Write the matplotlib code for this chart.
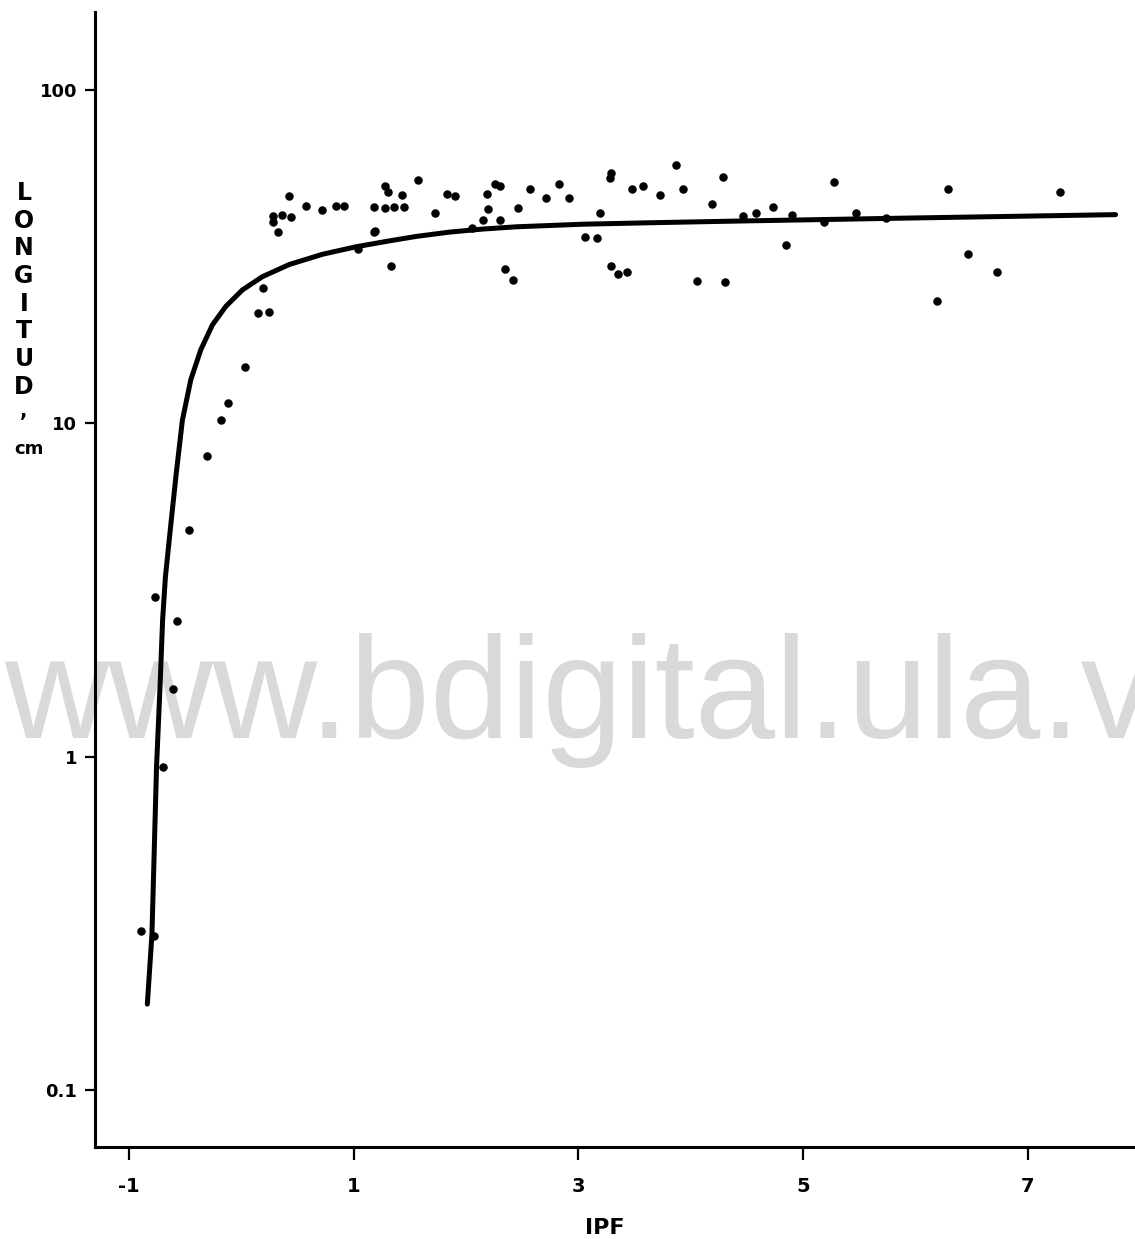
import matplotlib.pyplot as plt

# Datos observados (IPF vs longitud en cm)
ipf = [-0.89, -0.78, -0.77, -0.57, -0.61, -0.70, -0.47, -0.31, -0.18, -0.12,
       0.03, 0.15, 0.25, 0.19, 0.33, 0.28, 0.28, 0.36, 0.44, 0.42,
       0.58, 0.72, 0.84, 0.91, 1.04, 1.18, 1.19, 1.18, 1.28, 1.31,
       1.28, 1.36, 1.33, 1.43, 1.45, 1.57, 1.72, 1.83, 1.90, 2.05,
       2.15, 2.19, 2.20, 2.26, 2.30, 2.30, 2.35, 2.42, 2.46, 2.57,
       2.71, 2.83, 2.92, 3.06, 3.17, 3.19, 3.29, 3.28, 3.29, 3.35,
       3.43, 3.48, 3.58, 3.73, 3.87, 3.93, 4.06, 4.19, 4.29, 4.31,
       4.47, 4.58, 4.73, 4.85, 4.90, 5.19, 5.28, 5.47, 5.74, 6.19,
       6.29, 6.47, 6.73, 7.29]
longitud = [0.30, 0.29, 3.0, 2.55, 1.6, 0.93, 4.78, 7.98, 10.2, 11.5,
            14.7, 21.4, 21.6, 25.4, 37.5, 41.7, 40.0, 42.0, 41.6, 48.0,
            44.7, 43.7, 44.7, 44.9, 33.3, 37.4, 37.8, 44.5, 51.3, 49.5,
            44.2, 44.4, 29.7, 48.3, 44.5, 53.6, 42.8, 48.5, 48.0, 38.5,
            40.7, 48.5, 44.0, 52.2, 51.3, 40.8, 28.9, 26.8, 44.3, 50.5,
            47.5, 52.0, 47.4, 36.1, 35.9, 42.8, 56.2, 54.4, 29.6, 28.1,
            28.4, 50.4, 51.5, 48.2, 59.4, 50.4, 26.7, 45.3, 54.7, 26.5,
            41.9, 42.8, 44.5, 34.2, 42.2, 40.0, 52.7, 42.6, 41.2, 23.3,
            50.5, 32.2, 28.4, 49.3]

# Curva ajustada
ipf_curva = [-0.837, -0.796, -0.755, -0.723, -0.701, -0.676, -0.627, -0.581,
             -0.525, -0.450, -0.361, -0.258, -0.138, 0.010, 0.188, 0.426,
             0.723, 1.020, 1.317, 1.555, 1.852, 2.149, 2.447, 3.040, 3.635,
             4.463, 5.907, 7.784]
long_curva = [0.181, 0.293, 0.935, 1.65, 2.57, 3.46, 5.0, 7.0,
              10.2, 13.5, 16.6, 19.7, 22.4, 25.1, 27.5, 29.9,
              32.1, 33.8, 35.2, 36.3, 37.4, 38.2, 38.8, 39.5, 39.9,
              40.4, 41.2, 42.2]

xticks = [-1, 1, 3, 5, 7]
yticks = [0.1, 1, 10, 100]
ytick_labels = ['0.1', '1', '10', '100']

fig = plt.figure(figsize=(11.35, 12.39), dpi=100)
ax = fig.add_axes([0.0837, 0.0743, 0.9163, 0.9160])
ax.patch.set_visible(False)

# Marca de agua
ax.text(0.004, 0.4044, 'www.bdigital.ula.ve', transform=fig.transFigure,
        fontsize=104, color='#d9d9d9', family='Liberation Sans',
        ha='left', va='baseline', zorder=0, clip_on=False)

ax.plot(ipf_curva, long_curva, color='black', lw=3.6, zorder=3,
        solid_capstyle='round', solid_joinstyle='round')
ax.scatter(ipf, longitud, s=26, color='black', zorder=4)

ax.set_yscale('log')
ax.set_xlim(-1.303, 7.957)
ax.set_ylim(0.0675, 171)

ax.set_xticks(xticks)
ax.set_xticklabels([str(t) for t in xticks])
ax.set_yticks(yticks)
ax.set_yticklabels(ytick_labels)
ax.minorticks_off()

for s in ['top', 'right']:
    ax.spines[s].set_visible(False)
for s in ['left', 'bottom']:
    ax.spines[s].set_linewidth(2.2)

ax.tick_params(axis='x', direction='out', length=9, width=1.6, pad=13,
               labelsize=14)
ax.tick_params(axis='y', direction='out', length=7, width=1.6, pad=6,
               labelsize=13)
for lbl in ax.get_xticklabels() + ax.get_yticklabels():
    lbl.set_fontweight('bold')

# Etiqueta del eje x
fig.text(605 / 1135, 1 - 1228 / 1239, 'IPF', fontsize=16, fontweight='bold',
         ha='center', va='center')

# Etiqueta del eje y, letras apiladas
letras = ['L', 'O', 'N', 'G', 'I', 'T', 'U', 'D']
for i, letra in enumerate(letras):
    fig.text(24 / 1135, 1 - (193 + i * 27.7) / 1239, letra, fontsize=17,
             fontweight='bold', ha='center', va='center')
fig.text(24 / 1135, 1 - 412 / 1239, ',', fontsize=14, fontweight='bold',
         ha='center', va='center')
fig.text(29 / 1135, 1 - 449 / 1239, 'cm', fontsize=13, fontweight='bold',
         ha='center', va='center')

fig.savefig('out.png', dpi=100)
